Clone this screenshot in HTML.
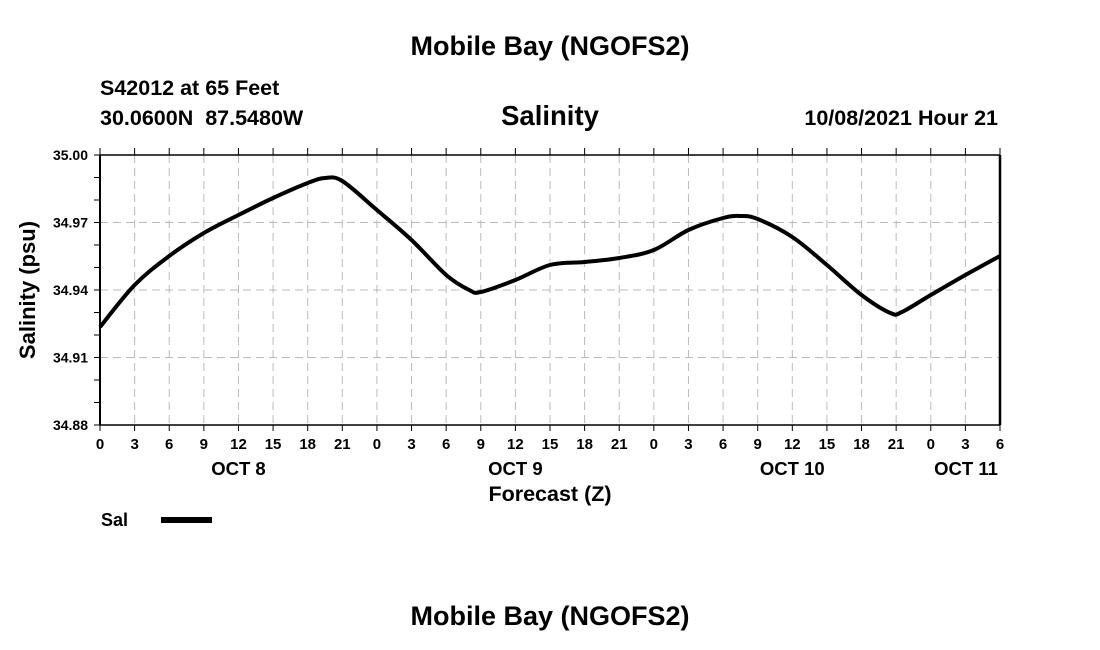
<!DOCTYPE html>
<html><head><meta charset="utf-8"><style>
body{margin:0;background:#fff;}
svg{display:block;font-family:"Liberation Sans",sans-serif;font-weight:bold;}
</style></head><body>
<svg id="s" width="1100" height="650" viewBox="0 0 1100 650" xmlns="http://www.w3.org/2000/svg">
<rect width="1100" height="650" fill="#fff"/>
<text x="550" y="55" font-size="27" text-anchor="middle">Mobile Bay (NGOFS2)</text>
<text x="550" y="625" font-size="27" text-anchor="middle">Mobile Bay (NGOFS2)</text>
<text x="100" y="95" font-size="21.5">S42012 at 65 Feet</text>
<text x="100" y="125" font-size="21.5" style="white-space:pre">30.0600N  87.5480W</text>
<text x="550" y="125" font-size="27.5" text-anchor="middle">Salinity</text>
<text x="998" y="125" font-size="21.5" text-anchor="end">10/08/2021 Hour 21</text>
<text x="550" y="501" font-size="21.5" text-anchor="middle">Forecast (Z)</text>
<text transform="translate(35,290) rotate(-90)" font-size="22" text-anchor="middle">Salinity (psu)</text>
<text x="101" y="526" font-size="18">Sal</text>
<rect x="161" y="517" width="51" height="6" fill="#000"/>
<g id="g"></g>
</svg>
<script>
var g=document.getElementById('g'),h='';
var X=function(t){return 100+t*900/78;};
var yv=[35.00,34.97,34.94,34.91,34.88];
for(var i=0;i<5;i++){var y=155+i*67.5;
 if(i>0&&i<4)h+='<line x1="100" x2="1000" y1="'+y+'" y2="'+y+'" stroke="#bbb" stroke-dasharray="8,5"/>';
 h+='<text x="88" y="'+(y+5)+'" font-size="14" text-anchor="end">'+yv[i].toFixed(2)+'</text>';}
for(var k=0;k<=12;k++){var y=155+k*22.5;h+='<line x1="94" x2="100" y1="'+y+'" y2="'+y+'" stroke="#000"/>';}
for(var t=0;t<=78;t+=3){var x=X(t);
 if(t>0&&t<78)h+='<line x1="'+x+'" x2="'+x+'" y1="155" y2="425" stroke="#bbb" stroke-dasharray="8,5"/>';
 h+='<line x1="'+x+'" x2="'+x+'" y1="148" y2="155" stroke="#000"/><line x1="'+x+'" x2="'+x+'" y1="425" y2="431" stroke="#000"/>';
 h+='<text x="'+x+'" y="449" font-size="15" text-anchor="middle">'+(t%24)+'</text>';}
[['OCT 8',X(12)],['OCT 9',X(36)],['OCT 10',X(60)],['OCT 11',X(78)-34]].forEach(function(o){h+='<text x="'+o[1]+'" y="475" font-size="18.5" text-anchor="middle">'+o[0]+'</text>';});
h+='<line x1="100" x2="1000" y1="155" y2="155" stroke="#000" stroke-width="1.5"/><line x1="100" x2="1000" y1="425" y2="425" stroke="#000" stroke-width="1.5"/>';
h+='<line x1="100" x2="100" y1="155" y2="425" stroke="#000" stroke-width="2"/><line x1="1000" x2="1000" y1="155" y2="425" stroke="#000" stroke-width="2.5"/>';
var p=[[0,327],[3,285],[6,256],[9,233],[12,215],[15,198],[18,183],[19.5,178],[21,181],[24,210],[27,240],[30,275],[32,290],[33,292],[36,280],[39,265],[42,262],[45,258],[48,250],[51,230],[54,218],[55.5,216],[57,219],[60,237],[63,265],[66,295],[68.5,313],[69.5,312],[72,295],[75,275],[78,256]];
var P=p.map(function(q){return [X(q[0]),q[1]];});
var d='M'+P[0][0]+','+P[0][1];
for(var i=0;i<P.length-1;i++){var a=P[Math.max(i-1,0)],b=P[i],c=P[i+1],e=P[Math.min(i+2,P.length-1)];
 d+=' C'+(b[0]+(c[0]-a[0])/6)+','+(b[1]+(c[1]-a[1])/6)+' '+(c[0]-(e[0]-b[0])/6)+','+(c[1]-(e[1]-b[1])/6)+' '+c[0]+','+c[1];}
h+='<path d="'+d+'" fill="none" stroke="#000" stroke-width="4"/>';
g.innerHTML=h;
</script>
</body></html>
